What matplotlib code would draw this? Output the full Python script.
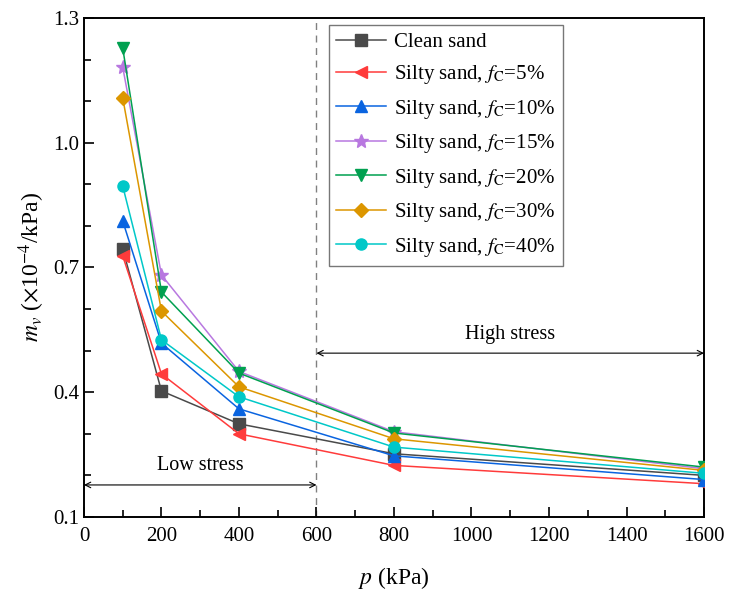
import matplotlib
matplotlib.use("Agg")
import matplotlib.pyplot as plt
from matplotlib.ticker import MultipleLocator
import numpy as np

plt.rcParams['font.family'] = ['Liberation Serif', 'DejaVu Serif']
plt.rcParams['mathtext.fontset'] = 'stix'

p = [100, 200, 400, 800, 1600]
clean = [0.745, 0.403, 0.324, 0.252, 0.200]
fc5 = [0.728, 0.444, 0.300, 0.224, 0.180]
fc10 = [0.812, 0.518, 0.360, 0.247, 0.190]
fc15 = [1.182, 0.682, 0.450, 0.305, 0.216]
fc20 = [1.228, 0.641, 0.446, 0.302, 0.220]
fc30 = [1.108, 0.595, 0.413, 0.288, 0.212]
fc40 = [0.896, 0.526, 0.389, 0.268, 0.205]
yticks = [0.1, 0.4, 0.7, 1.0, 1.3]

series = [
    ("Clean sand", clean, '#4a4a4a', 's'),
    (r"Silty sand, $f_\mathrm{C}$=5%", fc5, '#ff3b3b', '<'),
    (r"Silty sand, $f_\mathrm{C}$=10%", fc10, '#0a64e0', '^'),
    (r"Silty sand, $f_\mathrm{C}$=15%", fc15, '#b878e0', '*'),
    (r"Silty sand, $f_\mathrm{C}$=20%", fc20, '#00a050', 'v'),
    (r"Silty sand, $f_\mathrm{C}$=30%", fc30, '#dc9600', 'D'),
    (r"Silty sand, $f_\mathrm{C}$=40%", fc40, '#00c8c8', 'o'),
]

fig = plt.figure(figsize=(7.3, 5.96), dpi=100)
ax = fig.add_axes([0.115, 0.1326, 0.8494, 0.8372])

for label, vals, col, mk in series:
    ms = 10 if mk == '*' else 8
    if mk == 'D':
        ms = 7
    ax.plot(p, vals, color=col, marker=mk, markersize=ms, lw=1.1, label=label,
            zorder=3)

ax.axvline(600, color='#808080', ls=(0, (5, 4)), lw=1.0, zorder=1)

ax.annotate('', xy=(0, 0.177), xytext=(600, 0.177),
            arrowprops=dict(arrowstyle='<->', color='black', lw=0.8, shrinkA=0, shrinkB=0))
ax.text(300, 0.2, 'Low stress', ha='center', va='bottom', fontsize=14.5)
ax.annotate('', xy=(600, 0.494), xytext=(1600, 0.494),
            arrowprops=dict(arrowstyle='<->', color='black', lw=0.8, shrinkA=0, shrinkB=0))
ax.text(1100, 0.515, 'High stress', ha='center', va='bottom', fontsize=14.5)

ax.set_xlim(0, 1600)
ax.set_ylim(0.1, 1.3)
ax.xaxis.set_major_locator(MultipleLocator(200))
ax.xaxis.set_minor_locator(MultipleLocator(100))
ax.set_yticks(yticks)
ax.set_yticklabels([f"{v:.1f}" for v in yticks])
ax.set_yticks(np.arange(0.2, 1.3, 0.1), minor=True)
ax.tick_params(which='both', direction='in', top=False, right=False, labelsize=15, width=1.2)
ax.tick_params(which='major', length=7)
ax.tick_params(which='minor', length=5)
ax.tick_params(axis='x', pad=7)
for s in ax.spines.values():
    s.set_linewidth(1.4)

ax.set_xlabel(r"$p$ (kPa)", fontsize=17, labelpad=14)
ax.set_ylabel(r"$m_v$ ($\times$10$^{-4}$/kPa)", fontsize=17, labelpad=4)

leg = ax.legend(loc='upper left', bbox_to_anchor=(0.395, 0.986), fontsize=15,
                frameon=True, fancybox=False, edgecolor='#555555', handlelength=2.4,
                borderpad=0.35, labelspacing=0.55, handletextpad=0.4, borderaxespad=0)
leg.get_frame().set_linewidth(1.0)

fig.savefig("out.png", dpi=100)
